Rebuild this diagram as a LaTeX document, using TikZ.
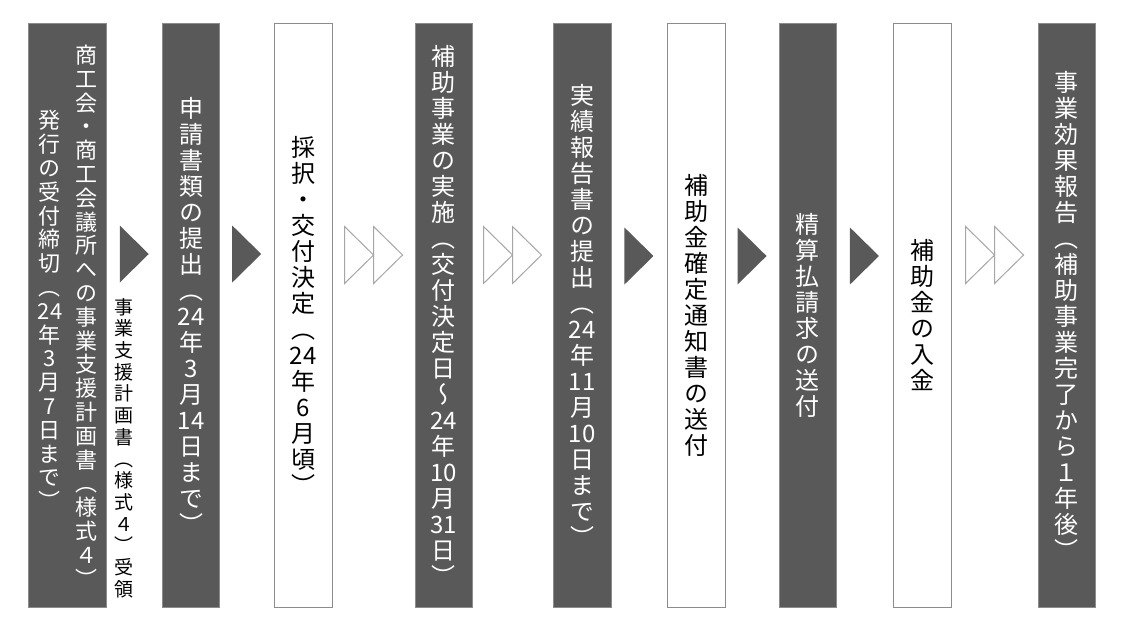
\documentclass[tikz,border=0pt]{standalone}
\usepackage{fontspec}
\usetikzlibrary{calc}
\newfontfamily\jpv[RawFeature=+vert]{Noto Sans CJK JP}
\definecolor{boxgray}{HTML}{595959}
\definecolor{edgegray}{HTML}{8C8C8C}
\definecolor{holgray}{HTML}{A6A6A6}
\tikzset{
  darkbox/.style={fill=boxgray, draw=edgegray, line width=0.8pt, text=white, inner sep=0pt},
  whitebox/.style={fill=white, draw=edgegray, line width=1pt, text=black, inner sep=0pt},
  colw/.style={minimum width=57pt, minimum height=584pt},
  vtext/.style={align=center, font=\jpv\fontsize{24}{26}\selectfont},
  vtextsm/.style={align=center, inner sep=0pt, font=\jpv\fontsize{22}{23.8}\selectfont},
  vtextxs/.style={align=center, inner sep=0pt, font=\jpv\fontsize{19}{21.7}\selectfont},
  solidarrow/.pic={\fill[boxgray] (-14.5,-28.5) -- (14.5,0) -- (-14.5,28.5) -- cycle;},
  hollowarrow/.pic={\draw[holgray, fill=white, line width=1pt, line join=miter]
     (-29,-28.5) -- (0,0) -- (-29,28.5) -- cycle
     (0,-28.5) -- (29,0) -- (0,28.5) -- cycle;}
}
\begin{document}
\begin{tikzpicture}[x=1pt,y=-1pt]
\useasboundingbox (0,0) rectangle (1129,625);
% boxes
\node[darkbox, minimum width=78pt, minimum height=584pt] (b1) at (67,315) {};
\node[vtextsm, text=white] (b1r) at (86,316) {商\\工\\会\\・\\商\\工\\会\\議\\所\\へ\\の\\事\\業\\支\\援\\計\\画\\書\\（\\様\\式\\４\\）};
\node[vtextsm, text=white] (b1l) at (50,310) {発\\行\\の\\受\\付\\締\\切\\（\\24\\年\\3\\月\\7\\日\\ま\\で\\）};
\node[darkbox, colw, vtext] (b2) at (191,315) {申\\請\\書\\類\\の\\提\\出\\（\\24\\年\\3\\月\\14\\日\\ま\\で\\）};
\node[whitebox, colw, minimum width=58pt, vtext] (b3) at (303,315) {採\\択\\・\\交\\付\\決\\定\\（\\24\\年\\6\\月\\頃\\）};
\node[darkbox, colw, vtext] (b4) at (443.5,315) {補\\助\\事\\業\\の\\実\\施\\（\\交\\付\\決\\定\\日\\～\\24\\年\\10\\月\\31\\日\\）};
\node[darkbox, colw, minimum width=58pt, vtext] (b5) at (582,315) {実\\績\\報\\告\\書\\の\\提\\出\\（\\24\\年\\11\\月\\10\\日\\ま\\で\\）};
\node[whitebox, colw, minimum width=58pt, vtext] (b6) at (696,315) {補\\助\\金\\確\\定\\通\\知\\書\\の\\送\\付};
\node[darkbox, colw, vtext] (b7) at (807.5,315) {精\\算\\払\\請\\求\\の\\送\\付};
\node[whitebox, colw, minimum width=58pt, vtext] (b8) at (922,315) {補\\助\\金\\の\\入\\金};
\node[darkbox, colw, vtext] (b9) at (1066.5,315) {事\\業\\効\\果\\報\\告\\（\\補\\助\\事\\業\\完\\了\\か\\ら\\１\\年\\後\\）};
% side label
\node[vtextxs, text=black] (lab) at (124,448) {事\\業\\支\\援\\計\\画\\書\\（\\様\\式\\４\\）\\受\\領};
% arrows
\path ($(b1.east)!.5!(b2.west)$) ++(0,-61) pic {solidarrow};
\path ($(b2.east)!.5!(b3.west)$) ++(0,-61) pic {solidarrow};
\path ($(b3.east)!.5!(b4.west)$) ++(0,-60) pic {hollowarrow};
\path ($(b4.east)!.5!(b5.west)$) ++(0,-60) pic {hollowarrow};
\path ($(b5.east)!.5!(b6.west)$) ++(0,-59) pic {solidarrow};
\path ($(b6.east)!.5!(b7.west)$) ++(0,-59) pic {solidarrow};
\path ($(b7.east)!.5!(b8.west)$) ++(0,-59) pic {solidarrow};
\path ($(b8.east)!.5!(b9.west)$) ++(0,-60) pic {hollowarrow};
\end{tikzpicture}
\end{document}
